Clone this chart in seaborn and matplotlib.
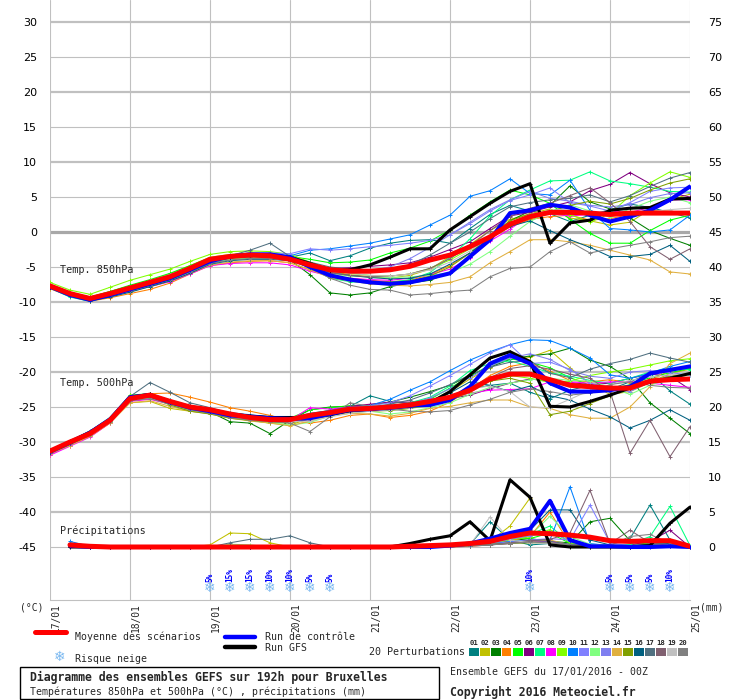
import numpy as np
import pandas as pd
import matplotlib
matplotlib.use("Agg")
import matplotlib.pyplot as plt
import matplotlib.transforms as mtransforms
from matplotlib.patches import Rectangle
from matplotlib.lines import Line2D
import seaborn as sns

# ---------------- data ----------------
STEPS_H = list(range(0, 193, 6))  # 33 forecast steps (6h)
DATES = ["17/01", "18/01", "19/01", "20/01", "21/01", "22/01", "23/01", "24/01", "25/01"]
LEFT_TICKS = [30, 25, 20, 15, 10, 5, 0, -5, -10, -15, -20, -25, -30, -35, -40, -45]
RIGHT_TICKS = [75, 70, 65, 60, 55, 50, 45, 40, 35, 30, 25, 20, 15, 10, 5, 0]

MEMBER_COLORS = ["#008080", "#c0c000", "#008000", "#ff8000", "#00ff00", "#800080", "#00ff80",
                 "#ff00ff", "#80ff00", "#0080ff", "#8080ff", "#80ff80", "#7f7ff0", "#e0b040",
                 "#80a000", "#006080", "#507080", "#806070", "#c0c0c0", "#808080"]
MEMBER_NAMES = ["01", "02", "03", "04", "05", "06", "07", "08", "09", "10",
                "11", "12", "13", "14", "15", "16", "17", "18", "19", "20"]

# 850 hPa temperature (deg C)
MEAN_850 = [-7.7, -8.8, -9.5, -8.8, -8.0, -7.2, -6.4, -5.2, -3.9, -3.5, -3.3, -3.4, -3.9, -4.7, -5.4, -5.6, -5.6,
            -5.4, -4.9, -4.0, -3.3, -2.1, -0.7, 1.1, 2.2, 2.8, 2.8, 2.7, 2.5, 2.7, 2.7, 2.7, 2.7]
CTRL_850 = [-7.8, -9.0, -9.7, -9.0, -8.2, -7.4, -6.6, -5.4, -4.2, -3.5, -3.2, -3.2, -3.6, -5.0, -6.2, -6.8, -7.2,
            -7.4, -7.2, -6.6, -5.9, -3.5, -1.1, 2.7, 3.1, 3.9, 3.5, 2.4, 1.5, 2.2, 3.1, 4.6, 6.5]
GFS_850 = [-7.8, -8.9, -9.6, -8.9, -8.1, -7.3, -6.4, -5.2, -4.0, -3.5, -3.3, -3.3, -3.6, -4.5, -5.5, -5.4, -4.7,
           -3.6, -2.4, -2.4, 0.3, 2.2, 4.1, 5.8, 6.9, -1.6, 1.3, 1.7, 3.1, 3.4, 3.5, 4.7, 4.8]
P850_01 = [-7.9, -9.0, -9.8, -9.0, -8.3, -7.5, -6.7, -5.5, -4.3, -3.7, -3.5, -3.4, -3.6, -3.0, -4.1, -3.4, -2.3,
           -1.6, -1.2, -1.1, -1.6, 0.5, 2.5, 3.8, 3.0, 2.6, 1.5, 2.4, 3.2, 4.0, 3.5, 2.8, 2.0]
P850_02 = [-7.6, -8.7, -9.3, -8.5, -7.7, -6.9, -6.0, -4.8, -3.6, -3.2, -3.0, -3.1, -3.6, -4.5, -5.6, -6.1, -6.4,
           -6.6, -6.2, -5.3, -3.5, -1.8, 0.2, 1.8, 2.6, 3.3, 2.0, 1.6, 1.0, 1.4, 3.2, 4.6, 5.4]
P850_03 = [-7.8, -9.0, -9.7, -9.1, -8.3, -7.6, -6.8, -5.7, -4.5, -4.0, -3.8, -3.8, -4.0, -6.1, -8.7, -9.0, -8.7,
           -7.8, -7.3, -6.9, -5.8, -3.6, -0.8, 1.6, 3.0, 3.8, 6.6, 4.3, 3.3, 2.0, 0.2, -0.9, -1.9]
P850_04 = [-8.1, -9.2, -9.9, -9.4, -8.8, -8.2, -7.3, -6.0, -4.8, -4.4, -4.2, -4.1, -4.4, -5.4, -6.3, -6.6, -6.9,
           -7.1, -6.9, -6.1, -4.8, -3.0, -0.9, 0.7, 1.8, 2.2, 2.4, 1.7, 1.9, 2.5, 3.1, 3.0, 2.6]
P850_05 = [-7.5, -8.6, -9.3, -8.5, -7.6, -6.8, -5.9, -4.8, -3.7, -3.3, -3.1, -3.2, -3.5, -3.9, -4.4, -4.3, -4.0,
           -3.0, -2.3, -1.3, 0.3, 2.4, 4.3, 6.0, 5.3, 4.1, 1.8, -0.2, -1.6, -1.6, 0.2, 1.7, 2.4]
P850_06 = [-7.7, -8.9, -9.5, -8.8, -8.1, -7.3, -6.5, -5.3, -4.1, -3.6, -3.4, -3.5, -3.8, -4.8, -5.2, -5.1, -4.9,
           -4.7, -4.4, -3.6, -2.5, -1.4, 0.5, 2.3, 2.8, 3.6, 4.3, 5.9, 6.8, 8.5, 6.9, 5.6, 5.0]
P850_07 = [-8.0, -9.3, -9.9, -9.2, -8.5, -7.7, -6.9, -5.6, -4.4, -3.9, -3.6, -3.6, -3.9, -5.0, -6.6, -7.1, -7.3,
           -7.2, -6.8, -5.8, -3.6, -1.0, 2.3, 4.6, 6.0, 7.3, 7.4, 8.6, 7.3, 6.9, 6.4, 5.8, 5.7]
P850_08 = [-7.9, -9.1, -9.6, -9.0, -8.4, -7.8, -7.1, -6.0, -4.8, -4.5, -4.4, -4.4, -4.7, -5.6, -6.3, -6.6, -6.8,
           -6.9, -6.6, -6.1, -5.3, -3.7, -1.3, 0.4, 2.4, 2.6, 2.3, 2.5, 3.0, 2.8, 3.5, 4.6, 4.6]
P850_09 = [-7.2, -8.3, -8.9, -7.9, -6.9, -6.1, -5.3, -4.2, -3.2, -2.8, -2.7, -2.8, -3.2, -4.3, -5.4, -5.9, -6.2,
           -6.3, -6.0, -5.2, -4.0, -2.4, -0.6, 1.0, 2.0, 3.2, 2.5, 1.4, 2.6, 5.2, 7.0, 8.6, 7.8]
P850_10 = [-7.6, -8.7, -9.4, -8.7, -7.9, -7.1, -6.3, -5.1, -3.9, -3.4, -3.2, -3.2, -3.4, -2.6, -2.4, -2.0, -1.6,
           -1.0, -0.4, 1.0, 2.4, 5.1, 5.9, 7.6, 5.5, 5.3, 7.4, 3.1, 0.5, 0.3, 0.0, 0.3, 2.4]
P850_11 = [-7.7, -8.8, -9.5, -8.7, -7.8, -7.0, -6.1, -5.0, -3.7, -3.3, -3.0, -3.0, -3.1, -2.4, -2.6, -2.4, -2.1,
           -1.9, -1.6, -1.2, -0.4, 1.2, 3.0, 4.5, 5.3, 6.3, 4.2, 3.7, 3.0, 4.2, 5.8, 6.3, 6.4]
P850_12 = [-7.9, -9.1, -9.7, -9.0, -8.2, -7.5, -6.7, -5.6, -4.4, -3.9, -3.7, -3.7, -4.0, -5.1, -6.0, -6.3, -6.4,
           -6.5, -6.4, -6.2, -5.8, -4.6, -2.8, -0.6, 1.5, 2.9, 3.9, 3.0, 2.1, 3.3, 4.4, 5.0, 4.2]
P850_13 = [-7.8, -8.9, -9.5, -8.9, -8.1, -7.3, -6.5, -5.3, -4.1, -3.6, -3.4, -3.4, -3.7, -4.5, -5.3, -5.6, -5.5,
           -5.0, -3.8, -2.2, -0.4, 1.4, 3.2, 4.6, 5.8, 4.8, 4.4, 3.8, 3.6, 3.9, 4.9, 5.5, 5.6]
P850_14 = [-8.0, -9.1, -9.8, -9.2, -8.5, -7.8, -7.0, -5.9, -4.7, -4.3, -4.1, -4.1, -4.4, -5.4, -6.5, -7.0, -7.4,
           -7.6, -7.7, -7.5, -7.2, -6.4, -4.4, -2.8, -1.1, -1.1, -1.4, -1.9, -2.6, -3.3, -4.0, -5.7, -6.0]
P850_15 = [-7.6, -8.7, -9.3, -8.6, -7.8, -7.0, -6.1, -5.0, -3.8, -3.4, -3.2, -3.3, -3.8, -4.9, -6.2, -6.8, -7.1,
           -7.2, -7.0, -6.3, -5.0, -3.0, -0.5, 1.6, 2.6, 2.9, 3.8, 4.4, 4.0, 4.8, 6.0, 7.0, 7.6]
P850_16 = [-7.9, -9.1, -9.8, -9.3, -8.6, -7.8, -7.0, -5.9, -4.6, -4.1, -3.9, -3.9, -4.1, -4.9, -5.8, -6.2, -6.5,
           -6.7, -6.6, -6.0, -4.6, -3.0, -0.9, 0.8, 1.6, 0.2, -1.1, -2.2, -3.5, -3.5, -3.2, -1.9, -4.2]
P850_17 = [-7.7, -8.8, -9.4, -8.8, -8.0, -7.2, -6.3, -5.1, -3.9, -3.4, -2.6, -1.6, -3.5, -4.3, -5.0, -5.3, -5.4,
           -5.3, -4.7, -3.3, -1.6, 0.0, 1.9, 3.6, 4.2, 4.6, 4.8, 5.3, 4.3, 5.2, 6.5, 7.7, 8.5]
P850_18 = [-7.8, -8.9, -9.6, -9.0, -8.2, -7.4, -6.6, -5.4, -4.2, -3.7, -3.5, -3.5, -3.8, -4.8, -5.8, -6.2, -6.4,
           -6.3, -6.0, -5.2, -3.8, -2.0, 0.2, 2.2, 3.4, 4.1, 5.2, 6.3, 4.2, 1.5, -2.1, -3.9, -2.4]
P850_19 = [-7.6, -8.7, -9.4, -8.7, -7.8, -7.0, -6.1, -5.0, -3.8, -3.3, -3.1, -3.2, -3.6, -4.6, -5.5, -5.9, -6.2,
           -6.3, -6.0, -5.4, -4.3, -2.7, -0.7, 1.2, 2.5, 3.1, 3.3, 2.4, 1.7, 2.2, 2.9, 3.2, 3.4]
P850_20 = [-7.9, -9.0, -9.7, -9.1, -8.4, -7.6, -6.8, -5.7, -4.5, -4.0, -3.8, -3.8, -4.1, -5.1, -6.6, -7.6, -8.2,
           -8.3, -9.0, -8.8, -8.5, -8.3, -6.4, -5.2, -5.0, -2.8, -1.4, -3.0, -2.4, -1.9, -1.4, -0.8, -0.6]

# 500 hPa temperature (deg C)
MEAN_500 = [-31.3, -30.0, -28.8, -26.9, -23.8, -23.3, -24.2, -25.0, -25.4, -26.0, -26.5, -26.8, -26.8, -26.2, -25.8,
            -25.3, -25.2, -25.0, -24.7, -24.2, -23.6, -22.6, -21.0, -20.3, -20.3, -21.1, -21.9, -22.1, -22.3, -22.3,
            -21.3, -21.1, -21.0]
CTRL_500 = [-31.4, -30.1, -28.7, -26.8, -23.6, -23.3, -24.3, -25.1, -25.6, -26.2, -26.4, -26.6, -26.7, -26.6, -26.0,
            -25.4, -25.3, -25.1, -24.8, -24.7, -24.0, -22.1, -18.8, -17.6, -18.8, -21.6, -22.8, -22.8, -22.6, -22.1,
            -20.2, -19.7, -19.2]
GFS_500 = [-31.4, -30.0, -28.6, -26.8, -23.6, -23.2, -24.3, -25.0, -25.5, -26.0, -26.3, -26.5, -26.5, -26.5, -26.1,
           -25.5, -25.3, -25.1, -24.9, -24.4, -22.8, -20.4, -18.0, -17.1, -18.5, -24.9, -25.0, -24.2, -23.3, -22.3,
           -21.4, -20.9, -20.2]
P500_01 = [-31.5, -30.2, -28.9, -27.0, -23.9, -23.4, -24.3, -25.1, -25.5, -26.2, -26.5, -26.7, -26.6, -25.9, -25.5,
           -24.9, -23.4, -24.2, -24.5, -24.0, -23.4, -22.4, -21.9, -21.6, -22.9, -23.8, -22.6, -21.9, -22.5, -21.4,
           -20.2, -22.7, -24.6]
P500_02 = [-31.2, -30.0, -28.9, -27.2, -24.4, -24.2, -25.2, -25.6, -25.9, -26.6, -26.9, -27.3, -27.6, -26.6, -26.1,
           -25.5, -25.5, -25.3, -25.0, -24.2, -22.8, -21.0, -19.4, -17.8, -17.9, -16.9, -19.4, -21.7, -23.2, -22.8,
           -21.5, -20.2, -19.6]
P500_03 = [-31.6, -30.3, -29.0, -27.0, -23.8, -23.5, -24.6, -25.3, -25.7, -27.1, -27.3, -28.8, -26.9, -25.4, -25.0,
           -24.9, -24.8, -24.3, -23.6, -22.8, -21.9, -20.5, -19.3, -18.2, -17.7, -17.4, -16.6, -18.3, -19.2, -21.0,
           -24.4, -26.6, -28.8]
P500_04 = [-31.8, -30.5, -29.2, -27.3, -23.6, -23.1, -23.0, -23.6, -24.3, -25.1, -25.6, -26.2, -26.9, -27.3, -26.9,
           -26.2, -26.0, -26.5, -26.2, -25.6, -24.3, -22.5, -20.5, -19.2, -18.7, -19.9, -21.2, -21.4, -21.1, -21.5,
           -21.2, -19.8, -19.4]
P500_05 = [-31.2, -29.9, -28.5, -26.5, -23.3, -23.1, -24.0, -24.9, -25.4, -26.1, -26.6, -26.9, -26.6, -25.4, -25.1,
           -24.8, -24.9, -24.9, -24.6, -23.9, -22.3, -20.6, -19.0, -18.1, -18.6, -19.4, -20.8, -21.9, -22.5, -21.8,
           -20.8, -20.1, -19.5]
P500_06 = [-31.4, -30.0, -28.7, -26.9, -23.8, -23.4, -24.1, -24.9, -25.5, -26.0, -26.3, -26.6, -26.8, -26.4, -25.6,
           -24.9, -24.6, -24.3, -24.3, -24.0, -23.8, -23.3, -22.4, -21.6, -21.0, -21.3, -21.5, -21.8, -21.6, -20.9,
           -20.3, -20.6, -22.5]
P500_07 = [-31.6, -30.4, -29.1, -27.1, -24.1, -23.8, -24.5, -25.2, -25.7, -26.3, -26.6, -26.8, -27.0, -26.4, -25.9,
           -25.3, -25.1, -24.8, -24.4, -23.6, -22.0, -19.8, -18.8, -18.4, -19.2, -20.1, -20.6, -21.2, -21.6, -20.9,
           -20.0, -19.4, -19.7]
P500_08 = [-31.9, -30.6, -29.3, -27.3, -24.2, -23.9, -24.6, -25.3, -25.8, -26.4, -26.8, -27.1, -26.9, -25.1, -25.3,
           -25.0, -25.1, -25.0, -24.6, -24.1, -23.8, -23.0, -22.6, -22.5, -22.4, -21.4, -21.4, -21.6, -21.4, -21.4,
           -21.6, -21.9, -22.2]
P500_09 = [-31.3, -30.0, -28.6, -26.6, -23.3, -23.3, -24.4, -25.3, -25.9, -26.5, -26.9, -27.3, -27.2, -26.3, -25.7,
           -25.4, -25.5, -25.4, -25.2, -24.8, -24.0, -22.9, -21.3, -20.5, -20.9, -21.5, -21.3, -20.5, -20.0, -19.6,
           -19.0, -18.4, -18.1]
P500_10 = [-31.1, -29.8, -28.4, -26.5, -23.5, -23.2, -24.0, -24.8, -25.2, -25.8, -26.1, -26.4, -26.6, -26.0, -25.5,
           -25.0, -24.8, -23.9, -22.6, -21.4, -19.8, -18.3, -17.1, -16.1, -15.4, -15.5, -16.6, -18.0, -20.4, -20.9,
           -20.2, -19.2, -18.5]
P500_11 = [-31.5, -30.1, -28.8, -26.9, -23.9, -23.5, -24.4, -25.1, -25.6, -26.2, -26.4, -26.6, -26.8, -26.2, -25.7,
           -25.1, -24.8, -24.4, -23.4, -22.0, -20.5, -18.9, -17.3, -16.1, -18.8, -18.6, -19.6, -21.6, -22.4, -22.8,
           -21.4, -20.5, -20.3]
P500_12 = [-31.6, -30.3, -29.0, -27.1, -24.0, -23.6, -24.7, -25.5, -25.9, -26.5, -26.8, -27.2, -27.6, -27.2, -26.3,
           -25.9, -25.6, -26.0, -25.7, -25.1, -24.4, -23.2, -22.2, -21.6, -21.1, -20.9, -21.2, -21.3, -22.2, -23.2,
           -21.9, -20.9, -20.4]
P500_13 = [-31.3, -30.0, -28.8, -26.9, -23.9, -23.6, -24.5, -25.2, -25.7, -26.3, -26.7, -27.0, -27.0, -26.3, -25.9,
           -25.6, -25.5, -25.2, -24.6, -23.7, -22.4, -20.8, -19.2, -18.0, -17.4, -18.2, -19.8, -20.6, -20.9, -20.0,
           -19.8, -20.1, -20.4]
P500_14 = [-31.7, -30.5, -29.2, -27.3, -24.4, -24.1, -24.9, -25.6, -26.0, -26.6, -27.0, -27.3, -27.7, -27.0, -26.2,
           -25.9, -26.0, -26.3, -25.9, -25.2, -24.9, -24.4, -24.0, -24.0, -25.0, -25.2, -26.1, -26.6, -26.6, -25.0,
           -22.1, -18.8, -17.3]
P500_15 = [-31.4, -30.1, -28.7, -26.6, -23.6, -23.5, -24.7, -25.6, -26.0, -26.6, -26.9, -27.1, -27.3, -26.7, -26.0,
           -25.7, -25.6, -25.5, -25.2, -24.5, -23.6, -22.1, -21.3, -20.9, -21.6, -26.1, -25.6, -24.5, -23.4, -22.1,
           -21.3, -20.6, -20.2]
P500_16 = [-31.5, -30.2, -28.8, -26.9, -23.7, -23.4, -24.4, -25.2, -25.7, -26.3, -26.6, -26.8, -27.0, -26.5, -26.0,
           -25.6, -25.5, -25.4, -25.1, -24.3, -23.0, -21.4, -21.9, -22.8, -22.0, -23.4, -24.0, -25.3, -26.4, -28.0,
           -26.9, -25.4, -26.9]
P500_17 = [-31.2, -29.9, -28.5, -26.7, -23.5, -21.5, -22.9, -24.4, -25.1, -25.9, -26.3, -26.6, -26.9, -26.4, -25.8,
           -25.3, -25.0, -24.6, -24.0, -23.0, -21.8, -20.4, -19.3, -18.6, -18.4, -20.2, -20.8, -19.6, -18.8, -18.2,
           -17.3, -18.0, -18.6]
P500_18 = [-31.5, -30.2, -28.9, -26.9, -23.9, -23.6, -24.5, -25.2, -25.6, -26.2, -26.6, -26.9, -27.2, -26.8, -26.1,
           -25.7, -25.4, -25.2, -25.1, -24.5, -23.6, -22.2, -20.8, -19.5, -19.1, -19.6, -20.3, -20.9, -22.8, -31.6,
           -26.9, -32.1, -27.8]
P500_19 = [-31.3, -30.0, -28.6, -26.7, -23.8, -23.4, -24.3, -25.0, -25.5, -26.1, -26.5, -26.8, -27.1, -27.0, -26.4,
           -25.9, -25.6, -25.4, -25.1, -24.4, -23.5, -22.4, -22.0, -22.8, -25.0, -25.1, -23.9, -22.6, -21.8, -21.2,
           -20.7, -20.4, -20.3]
P500_20 = [-31.6, -30.3, -29.0, -27.1, -24.1, -23.8, -24.6, -25.4, -25.9, -26.5, -26.9, -27.1, -27.3, -28.5, -26.4,
           -24.4, -24.9, -25.3, -25.6, -25.7, -25.5, -24.7, -23.9, -22.9, -22.4, -22.8, -23.3, -23.0, -21.8, -21.4,
           -21.9, -22.2, -22.3]

# precipitation (mm / 6h), first value is the analysis (not drawn)
MEAN_PR = [0, 0.3, 0.1, 0, 0, 0, 0, 0, 0, 0, 0, 0, 0, 0, 0, 0, 0, 0, 0.1, 0.2, 0.3, 0.5, 0.8, 1.5, 2.0, 1.9, 1.7,
           1.4, 0.9, 0.8, 0.9, 0.9, 0.1]
CTRL_PR = [0, 0.2, 0, 0, 0, 0, 0, 0, 0, 0, 0, 0, 0, 0, 0, 0, 0, 0, 0, 0, 0.2, 0.5, 1.2, 2.0, 2.6, 6.6, 1.0, 0.1,
           0.1, 0, 0, 0.1, 0]
GFS_PR = [0, 0, 0, 0, 0, 0, 0, 0, 0, 0, 0, 0, 0, 0, 0, 0, 0, 0, 0.5, 1.1, 1.6, 3.6, 0.9, 9.6, 7.1, 0.3, 0, 0, 0,
          0, 0.2, 3.4, 5.7]
PR_01 = [0, 0.6, 0.1, 0, 0, 0, 0, 0, 0, 0, 0, 0, 0, 0, 0, 0, 0, 0, 0, 0.1, 0.2, 0.4, 3.6, 1.0, 0.3, 0.5, 0.2, 0.1,
         0.3, 1.2, 6.0, 1.0, 0]
PR_02 = [0, 0.1, 0, 0, 0, 0, 0, 0, 0.3, 2.0, 1.9, 0.6, 0, 0, 0, 0, 0, 0, 0, 0, 0.1, 0.3, 0.8, 3.0, 7.0, 0.5, 0.2,
         0, 0, 0.1, 0.2, 0.1, 0]
PR_03 = [0, 0.2, 0, 0, 0, 0, 0, 0, 0, 0, 0, 0, 0, 0, 0, 0, 0, 0, 0, 0, 0.1, 0.2, 0.6, 0.9, 1.2, 0.8, 0.6, 3.6,
         4.1, 0.9, 0.5, 0.3, 0]
PR_04 = [0, 0.3, 0, 0, 0, 0, 0, 0, 0, 0, 0, 0, 0, 0, 0, 0, 0, 0, 0, 0, 0, 0.2, 0.5, 0.9, 1.5, 5.0, 0.4, 0.1, 0,
         0, 0.1, 0.2, 0]
PR_05 = [0, 0.4, 0, 0, 0, 0, 0, 0, 0, 0, 0, 0, 0, 0, 0, 0, 0, 0, 0, 0, 0.2, 0.4, 0.7, 1.4, 1.2, 2.0, 0.5, 0.2,
         0.1, 0.3, 0.6, 0.2, 0]
PR_06 = [0, 0.1, 0, 0, 0, 0, 0, 0, 0, 0, 0, 0, 0, 0, 0, 0, 0, 0, 0, 0, 0, 0.1, 0.3, 0.5, 1.0, 0.9, 0.3, 0.2, 0.1,
         0.3, 0.8, 2.4, 0]
PR_07 = [0, 0.2, 0, 0, 0, 0, 0, 0, 0, 0, 0, 0, 0, 0, 0, 0, 0, 0, 0, 0, 0.1, 0.3, 0.6, 1.1, 1.8, 3.0, 0.6, 0.2,
         0.1, 0.4, 1.5, 5.8, 0.2]
PR_08 = [0, 0.1, 0, 0, 0, 0, 0, 0, 0, 0, 0, 0, 0, 0, 0, 0, 0, 0, 0, 0, 0.1, 0.2, 0.4, 0.6, 0.8, 0.8, 0.3, 0.1,
         0.1, 0.2, 0.4, 0.3, 0]
PR_09 = [0, 0.2, 0, 0, 0, 0, 0, 0, 0, 0, 0, 0, 0, 0, 0, 0, 0, 0, 0, 0, 0.1, 0.3, 0.5, 1.0, 1.5, 2.5, 0.6, 0.2,
         0.1, 0.2, 0.3, 0.2, 0]
PR_10 = [0, 0.8, 0.1, 0, 0, 0, 0, 0, 0, 0, 0, 0, 0, 0, 0, 0, 0, 0, 0, 0, 0.1, 0.3, 0.4, 0.8, 0.9, 1.0, 8.6, 0.5,
         0.2, 0.1, 0.1, 0.2, 0]
PR_11 = [0, 0.2, 0, 0, 0, 0, 0, 0, 0, 0, 0, 0, 0, 0, 0, 0, 0, 0, 0, 0, 0.1, 0.2, 0.4, 0.7, 1.0, 1.2, 1.0, 6.0,
         0.6, 0.2, 0.1, 0.1, 0]
PR_12 = [0, 0.3, 0, 0, 0, 0, 0, 0, 0, 0.4, 0.3, 0, 0, 0, 0, 0, 0, 0, 0, 0, 0.1, 0.3, 0.6, 1.2, 1.6, 4.4, 1.5,
         0.4, 0.2, 0.1, 0.2, 0.4, 0]
PR_13 = [0, 0.1, 0, 0, 0, 0, 0, 0, 0, 0, 0, 0, 0, 0, 0, 0, 0, 0, 0, 0, 0.1, 0.2, 0.5, 1.1, 1.6, 2.2, 0.8, 0.3,
         0.1, 0.1, 0.2, 0.1, 0]
PR_14 = [0, 0.1, 0, 0, 0, 0, 0, 0, 0, 0, 0, 0, 0, 0, 0, 0, 0, 0, 0, 0, 0, 0.1, 0.3, 0.6, 0.8, 1.0, 0.3, 0.1, 0,
         0, 0.1, 0.1, 0]
PR_15 = [0, 0.1, 0, 0, 0, 0, 0, 0, 0, 0, 0, 0, 0, 0, 0, 0, 0, 0, 0, 0, 0.1, 0.2, 0.4, 0.5, 0.6, 0.6, 0.2, 0.1,
         0.1, 0.1, 0.2, 0.1, 0]
PR_16 = [0, 0.2, 0, 0, 0, 0, 0, 0, 0, 0, 0, 0, 0, 0, 0, 0, 0, 0, 0, 0, 0.1, 0.3, 0.8, 1.5, 2.4, 5.3, 5.3, 1.0,
         0.3, 0.2, 0.4, 0.5, 0]
PR_17 = [0, 0.1, 0, 0, 0, 0, 0, 0, 0, 0.6, 1.1, 1.1, 1.6, 0.6, 0, 0, 0, 0, 0, 0, 0.1, 0.2, 0.3, 0.6, 0.9, 0.8,
         0.4, 0.2, 0.1, 0.1, 0.2, 0.1, 0]
PR_18 = [0, 0.1, 0, 0, 0, 0, 0, 0, 0, 0, 0, 0, 0, 0, 0, 0, 0, 0, 0, 0, 0.1, 0.2, 0.3, 0.6, 0.9, 1.1, 2.0, 8.1,
         0.5, 2.4, 0.6, 0.2, 0]
PR_19 = [0, 0.1, 0, 0, 0, 0, 0, 0, 0, 0, 0, 0, 0, 0, 0, 0, 0, 0, 0, 0, 0.1, 0.3, 4.3, 1.0, 0.6, 0.5, 0.2, 0.1,
         0.1, 0.1, 0.2, 0.1, 0]
PR_20 = [0, 0.1, 0, 0, 0, 0, 0, 0, 0, 0, 0, 0, 0, 0, 0, 0, 0, 0, 0, 0, 0.1, 0.2, 0.3, 0.5, 0.7, 0.6, 0.3, 0.2,
         0.2, 1.5, 1.8, 0.5, 0]

SNOW_STEP = [8, 9, 10, 11, 12, 13, 14, 24, 28, 29, 30, 31]
SNOW_PCT = ["5%", "15%", "15%", "10%", "10%", "5%", "5%", "10%", "5%", "5%", "5%", "10%"]

MEMBERS_850 = [P850_01, P850_02, P850_03, P850_04, P850_05, P850_06, P850_07, P850_08, P850_09, P850_10,
               P850_11, P850_12, P850_13, P850_14, P850_15, P850_16, P850_17, P850_18, P850_19, P850_20]
MEMBERS_500 = [P500_01, P500_02, P500_03, P500_04, P500_05, P500_06, P500_07, P500_08, P500_09, P500_10,
               P500_11, P500_12, P500_13, P500_14, P500_15, P500_16, P500_17, P500_18, P500_19, P500_20]
MEMBERS_PR = [PR_01, PR_02, PR_03, PR_04, PR_05, PR_06, PR_07, PR_08, PR_09, PR_10,
              PR_11, PR_12, PR_13, PR_14, PR_15, PR_16, PR_17, PR_18, PR_19, PR_20]
PR_BASE = -45  # precipitation zero drawn on the -45 line (right axis = left + 45)

# ---------------- figure ----------------
sns.set_theme(style="white")
plt.rcParams["font.family"] = ["DejaVu Sans"]
MONO = ["DejaVu Sans Mono", "DejaVu Sans"]

W, H = 740, 700
fig = plt.figure(figsize=(W / 100, H / 100), dpi=100)
fig.patch.set_facecolor("white")
ax = fig.add_axes([50 / W, 100 / H, 640 / W, 600 / H])
ax.set_facecolor("white")
ax.set_xlim(0, 192)
ax.set_ylim(-45 - 53 / 7, 30 + 22 / 7)

GRID = "#c0c0c0"
for v in LEFT_TICKS:
    if v == 0:
        ax.axhline(v, color="#a8a8a8", lw=2.3, zorder=1)
    elif v % 10 == 0:
        ax.axhline(v, color=GRID, lw=1.6, zorder=1)
    else:
        ax.axhline(v, color=GRID, lw=0.8, zorder=1)
for k in range(len(DATES)):
    ax.axvline(k * 24, color=GRID, lw=0.8, zorder=1)

for sp in ["top", "right", "left"]:
    ax.spines[sp].set_visible(False)
ax.spines["bottom"].set_color(GRID)
ax.spines["bottom"].set_linewidth(0.8)

x = STEPS_H


def draw(yvals, color, lw, z, marker=True, start=0):
    kw = dict(color=color, lw=lw, zorder=z, estimator=None, sort=False, legend=False)
    if marker:
        kw.update(marker="+", markersize=3.2, markeredgewidth=0.7, markeredgecolor=color)
    sns.lineplot(x=x[start:], y=yvals[start:], ax=ax, **kw)


# members
for vals, c in zip(MEMBERS_850, MEMBER_COLORS):
    draw(vals, c, 0.75, 2)
for vals, c in zip(MEMBERS_500, MEMBER_COLORS):
    draw(vals, c, 0.75, 2)
for vals, c in zip(MEMBERS_PR, MEMBER_COLORS):
    draw([PR_BASE + p for p in vals], c, 0.75, 2, start=1)

# GFS, control, mean
for vals in (GFS_850, GFS_500):
    draw(vals, "black", 2.2, 3)
draw([PR_BASE + p for p in GFS_PR], "black", 2.2, 3, start=1)
for vals in (CTRL_850, CTRL_500):
    draw(vals, "#0000ff", 2.9, 4)
draw([PR_BASE + p for p in CTRL_PR], "#0000ff", 2.9, 4, start=1)
for vals in (MEAN_850, MEAN_500):
    draw(vals, "#ff0000", 3.6, 5, marker=False)
draw([PR_BASE + p for p in MEAN_PR], "#ff0000", 3.6, 5, marker=False, start=1)

ax.set_xlabel("")
ax.set_ylabel("")

# left ticks
ax.set_xticks([])
ax.set_yticks(LEFT_TICKS)
ax.set_yticklabels([str(v) for v in LEFT_TICKS], fontsize=8, color="black")
ax.tick_params(axis="y", length=0, pad=9.4)

# right ticks (precip scale)
sec = ax.secondary_yaxis("right", functions=(lambda v: v + 45, lambda v: v - 45))
sec.set_yticks(RIGHT_TICKS)
sec.set_yticklabels([str(v) for v in RIGHT_TICKS], fontsize=8, color="black")
sec.tick_params(axis="y", length=0, pad=13)
sec.spines["right"].set_visible(False)

# in-plot labels (axes pixel offsets: 10 px from left edge)
for ypx, label in ((270, "Temp. 850hPa"), (383, "Temp. 500hPa"), (531, "Précipitations")):
    ax.text(10 / 640, 1 - ypx / 600, label, transform=ax.transAxes, family=MONO, fontsize=7.3,
            va="center", ha="left", zorder=6)

# date labels under the axis
xt = ax.get_xaxis_transform()
off = mtransforms.ScaledTranslation(6 / 100, -3 / 100, fig.dpi_scale_trans)
for k, d in enumerate(DATES):
    ax.text(k * 24, 0, d, transform=xt + off, rotation=90, ha="center", va="top",
            family=MONO, fontsize=6.9, clip_on=False)

# snow risk
for s, pct in zip(SNOW_STEP, SNOW_PCT):
    xs = x[s]
    ax.text(xs, 1 - 588 / 600, "\u2744", transform=xt, ha="center", va="center", fontsize=10,
            color="#7ab8f0", zorder=6)
    ax.text(xs, 1 - 582 / 600, pct, transform=xt, ha="center", va="bottom", rotation=90,
            fontsize=5.6, color="#0000ff", family=MONO, fontweight="bold", zorder=6)


def fx(px):
    return px / W


def fy(py):
    return 1 - py / H


fig.text(fx(20), fy(607), "(°C)", family=MONO, fontsize=7, va="center", ha="left")
fig.text(fx(700), fy(607), "(mm)", family=MONO, fontsize=7, va="center", ha="left")

# legend
fig.add_artist(Line2D([fx(35), fx(66)], [fy(632), fy(632)], color="#ff0000", lw=3.6))
fig.text(fx(75), fy(637), "Moyenne des scénarios", family=MONO, fontsize=7.1, va="center")
fig.add_artist(Line2D([fx(225), fx(255)], [fy(637), fy(637)], color="#0000ff", lw=3.2))
fig.text(fx(265), fy(637), "Run de contrôle", family=MONO, fontsize=7.1, va="center")
fig.add_artist(Line2D([fx(225), fx(255)], [fy(647), fy(647)], color="black", lw=3.2))
fig.text(fx(265), fy(648), "Run GFS", family=MONO, fontsize=7.1, va="center")
fig.text(fx(60), fy(657), "\u2744", fontsize=10, color="#7ab8f0", va="center", ha="center")
fig.text(fx(75), fy(659), "Risque neige", family=MONO, fontsize=7.1, va="center")
fig.text(fx(369), fy(652), "20 Perturbations", family=MONO, fontsize=7.2, va="center")
for k, (name, c) in enumerate(zip(MEMBER_NAMES, MEMBER_COLORS)):
    x0 = 469 + 11 * k
    fig.add_artist(Rectangle((fx(x0), fy(656)), 9.5 / W, 8 / H, transform=fig.transFigure,
                             facecolor=c, edgecolor="none"))
    fig.text(fx(x0 + 4.75), fy(643), name, family=MONO, fontsize=5.2, fontweight="bold",
             ha="center", va="center")

# title box
fig.add_artist(Rectangle((fx(20), fy(699)), 419 / W, 32 / H, transform=fig.transFigure,
                         facecolor="none", edgecolor="black", lw=1.0))
fig.text(fx(30), fy(677), "Diagramme des ensembles GEFS sur 192h pour Bruxelles", family=MONO,
         fontsize=8.3, fontweight="bold", va="center")
fig.text(fx(30), fy(692), "Températures 850hPa et 500hPa (°C) , précipitations (mm)", family=MONO,
         fontsize=7.1, va="center")
fig.text(fx(450), fy(672), "Ensemble GEFS du 17/01/2016 - 00Z", family=MONO, fontsize=7.1, va="center")
fig.text(fx(450), fy(692), "Copyright 2016 Meteociel.fr", family=MONO, fontsize=8.3,
         fontweight="bold", va="center")

fig.savefig("out.png", dpi=100, facecolor="white")
